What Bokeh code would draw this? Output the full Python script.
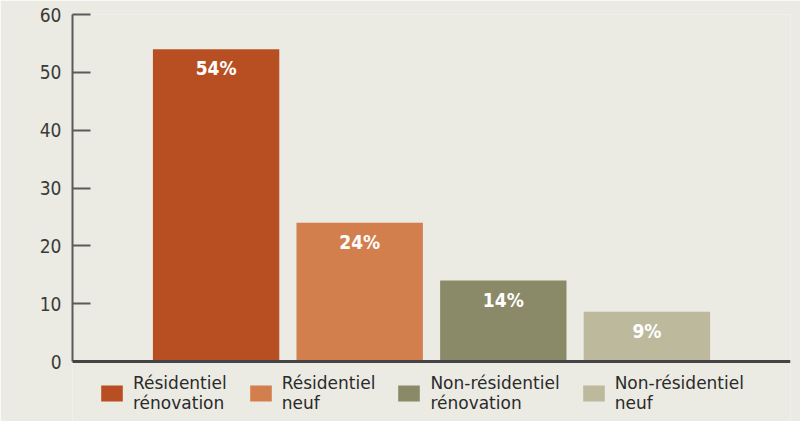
from bokeh.plotting import figure
from bokeh.models import ColumnDataSource, FactorRange, Legend, LegendItem, FixedTicker, Span, Range1d
from bokeh.embed import file_html
from bokeh.resources import INLINE

categories = ["Résidentiel rénovation", "Résidentiel neuf", "Non-résidentiel rénovation", "Non-résidentiel neuf"]
legend_labels = ["Résidentiel\nrénovation", "Résidentiel\nneuf", "Non-résidentiel\nrénovation", "Non-résidentiel\nneuf"]
values = [54, 24, 14, 8.6]
value_labels = ["54%", "24%", "14%", "9%"]
colors = ["#b84f22", "#d27e4d", "#8b8a68", "#bdb99d"]
y_ticks = [0, 10, 20, 30, 40, 50, 60]

BG = "#ebeae3"
FONT = "DejaVu Sans Condensed"

src = ColumnDataSource(dict(cat=categories, val=values, lab=value_labels, col=colors))

# frame extends below zero to leave room for the legend under the baseline
p = figure(frame_width=718, frame_height=407, output_backend="svg", toolbar_location=None,
           x_range=FactorRange(*categories, range_padding=0.5, range_padding_units="absolute"),
           y_range=Range1d(-10.37, 60),
           min_border_top=14, min_border_left=72, min_border_right=10, min_border_bottom=0)
p.background_fill_color = BG
p.border_fill_color = BG
p.outline_line_color = None
p.grid.visible = False

r = p.vbar(x="cat", top="val", bottom=0, width=0.88, color="col", source=src, line_color=None)
p.text(x="cat", y="val", text="lab", source=src, text_color="white", text_align="center",
       text_baseline="top", y_offset=8, text_font_size="19px", text_font_style="bold",
       text_font={"value": FONT})

p.yaxis.ticker = FixedTicker(ticks=y_ticks)
p.yaxis.bounds = (y_ticks[0], y_ticks[-1])
p.yaxis.major_tick_in = 18
p.yaxis.major_tick_out = 0
p.yaxis.minor_tick_line_color = None
p.yaxis.axis_line_color = "#5a5a5a"
p.yaxis.axis_line_width = 2
p.yaxis.major_tick_line_color = "#5a5a5a"
p.yaxis.major_tick_line_width = 2
p.yaxis.major_label_standoff = 11
p.yaxis.major_label_text_font = FONT
p.yaxis.major_label_text_font_size = "19px"
p.yaxis.major_label_text_color = "#3a3a3a"

p.xaxis.visible = False
p.add_layout(Span(location=y_ticks[0], dimension="width", line_color="#444444", line_width=3))

items = [LegendItem(label=legend_labels[i], renderers=[r], index=i) for i in range(4)]
legend = Legend(items=items, orientation="horizontal", location=(26, 8),
                background_fill_alpha=0, border_line_color=None,
                glyph_width=27, glyph_height=20, label_text_font="DejaVu Sans",
                label_text_font_size="17px", label_text_color="#2a2a2a",
                label_text_align="left",
                label_text_line_height=1.15, spacing=20, padding=0, margin=0,
                label_standoff=8, label_height=38)
p.add_layout(legend, "center")

html = file_html(p, INLINE)
html = html.replace("<body>", '<body style="background:%s">' % BG, 1)
open("out.html", "w").write(html)
